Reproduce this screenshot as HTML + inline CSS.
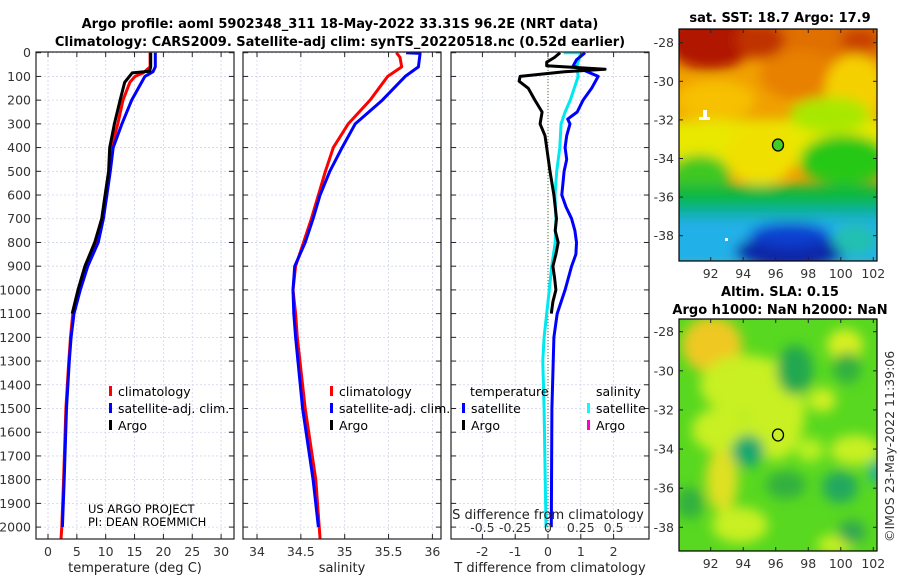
<!DOCTYPE html>
<html><head><meta charset="utf-8"><style>
html,body{margin:0;padding:0;background:#fff;}
svg{display:block;font-family:"DejaVu Sans","Liberation Sans",sans-serif;}
.tk{font-size:12.5px;fill:#333;}
.ttl{font-size:13px;font-weight:bold;fill:#000;}
.lab{font-size:13px;fill:#222;}
.lg{font-size:12.5px;fill:#000;}
</style></head><body>
<svg id="fig" width="900" height="580" viewBox="0 0 900 580">
<defs>
<filter id="blur1" filterUnits="userSpaceOnUse" x="650" y="0" width="250" height="290"><feGaussianBlur stdDeviation="6"/></filter>
<filter id="blur2" filterUnits="userSpaceOnUse" x="650" y="290" width="250" height="290"><feGaussianBlur stdDeviation="6"/></filter>
<clipPath id="cm1"><rect x="679" y="29" width="198" height="232"/></clipPath>
<clipPath id="cm2"><rect x="679" y="319" width="198" height="232"/></clipPath>
<clipPath id="cp1"><rect x="36" y="52" width="198" height="487"/></clipPath>
<clipPath id="cp2"><rect x="243" y="52" width="198" height="487"/></clipPath>
<clipPath id="cp3"><rect x="451" y="52" width="198" height="487"/></clipPath>
</defs>
<text class="ttl" x="340" y="28" text-anchor="middle">Argo profile: aoml 5902348_311 18-May-2022 33.31S 96.2E (NRT data)</text>
<text class="ttl" x="340" y="46" text-anchor="middle">Climatology: CARS2009. Satellite-adj clim: synTS_20220518.nc (0.52d earlier)</text>
<g id="grids"></g>
<g id="series"></g>
<g id="axes"></g>

<!-- map 1 SST -->
<g clip-path="url(#cm1)">
<rect x="679" y="29" width="198" height="232" fill="#f0a000"/>
<g filter="url(#blur1)">
<rect x="660" y="10" width="240" height="50" fill="#e07000"/>
<ellipse cx="710" cy="40" rx="45" ry="30" fill="#b01800"/>
<ellipse cx="760" cy="40" rx="25" ry="18" fill="#c03000"/>
<ellipse cx="860" cy="40" rx="20" ry="12" fill="#c84000"/>
<ellipse cx="800" cy="75" rx="40" ry="25" fill="#e88000"/>
<ellipse cx="715" cy="100" rx="40" ry="20" fill="#f7c000"/>
<ellipse cx="855" cy="90" rx="30" ry="35" fill="#f5d000"/>
<rect x="660" y="120" width="240" height="45" fill="#e8e800"/>
<ellipse cx="760" cy="155" rx="35" ry="30" fill="#f0e000"/>
<ellipse cx="830" cy="115" rx="40" ry="18" fill="#a8e800"/>
<ellipse cx="845" cy="160" rx="45" ry="25" fill="#28c818"/>
<ellipse cx="700" cy="175" rx="30" ry="20" fill="#40c820"/>
<rect x="660" y="185" width="240" height="25" fill="#10b840"/>
<rect x="660" y="205" width="240" height="15" fill="#10b0a0"/>
<rect x="660" y="218" width="240" height="50" fill="#20b0e8"/>
<ellipse cx="790" cy="252" rx="55" ry="18" fill="#0828a8"/>
<ellipse cx="790" cy="235" rx="40" ry="12" fill="#1040d0"/>
<ellipse cx="855" cy="240" rx="22" ry="16" fill="#20c0b0"/>
</g>
<rect x="703" y="110" width="4" height="8" fill="#fff"/><rect x="699" y="117" width="11" height="3" fill="#fff"/>
<rect x="725" y="238" width="3" height="3" fill="#fff"/>
<ellipse cx="778" cy="145" rx="5.5" ry="6" fill="#44cc22" stroke="#000" stroke-width="1.3"/>
</g>
<rect x="679" y="29" width="198" height="232" fill="none" stroke="#000" stroke-width="1.2"/>
<text class="ttl" x="780" y="22" text-anchor="middle">sat. SST: 18.7 Argo: 17.9</text>

<!-- map 2 SLA -->
<g clip-path="url(#cm2)">
<rect x="679" y="319" width="198" height="232" fill="#58d820"/>
<g filter="url(#blur2)">
<ellipse cx="712" cy="345" rx="30" ry="28" fill="#f0c820"/>
<ellipse cx="745" cy="385" rx="45" ry="30" fill="#c8f020"/>
<ellipse cx="775" cy="410" rx="30" ry="50" fill="#c8f020"/>
<ellipse cx="720" cy="430" rx="28" ry="22" fill="#c8f020"/>
<ellipse cx="722" cy="480" rx="16" ry="32" fill="#e0e020"/>
<ellipse cx="740" cy="525" rx="28" ry="18" fill="#c8f020"/>
<ellipse cx="855" cy="450" rx="25" ry="15" fill="#c8f020"/>
<ellipse cx="845" cy="345" rx="18" ry="16" fill="#d8f020"/>
<ellipse cx="822" cy="400" rx="14" ry="12" fill="#d0f020"/>
<ellipse cx="835" cy="545" rx="18" ry="10" fill="#c8f020"/>
<ellipse cx="810" cy="450" rx="14" ry="12" fill="#b8f020"/>
<ellipse cx="795" cy="370" rx="18" ry="25" fill="#20a850"/>
<ellipse cx="847" cy="368" rx="14" ry="16" fill="#30b040"/>
<ellipse cx="748" cy="451" rx="16" ry="16" fill="#18a870"/>
<ellipse cx="840" cy="487" rx="18" ry="16" fill="#20a860"/>
<ellipse cx="786" cy="485" rx="20" ry="14" fill="#30b040"/>
<ellipse cx="852" cy="532" rx="14" ry="12" fill="#30a850"/>
<ellipse cx="877" cy="472" rx="8" ry="12" fill="#20b0a0"/>
<ellipse cx="690" cy="503" rx="14" ry="16" fill="#30b040"/>
</g>
<ellipse cx="778" cy="435" rx="5.5" ry="6" fill="none" stroke="#000" stroke-width="1.3"/>
</g>
<rect x="679" y="319" width="198" height="232" fill="none" stroke="#000" stroke-width="1.2"/>
<text class="ttl" x="780" y="296" text-anchor="middle">Altim. SLA: 0.15</text>
<text class="ttl" x="780" y="314" text-anchor="middle">Argo h1000: NaN h2000: NaN</text>
<text class="tk" transform="translate(894,542) rotate(-90)">©IMOS 23-May-2022 11:39:06</text>
<g id="mapaxes"></g>

<!-- legends -->
<g>
<rect x="109" y="386" width="3" height="10" fill="#f00"/><text class="lg" x="118" y="396">climatology</text>
<rect x="109" y="403" width="3" height="10" fill="#00f"/><text class="lg" x="118" y="413">satellite-adj. clim.</text>
<rect x="109" y="420" width="3" height="10" fill="#000"/><text class="lg" x="118" y="430">Argo</text>
</g>
<g>
<rect x="330" y="386" width="3" height="10" fill="#f00"/><text class="lg" x="339" y="396">climatology</text>
<rect x="330" y="403" width="3" height="10" fill="#00f"/><text class="lg" x="339" y="413">satellite-adj. clim.</text>
<rect x="330" y="420" width="3" height="10" fill="#000"/><text class="lg" x="339" y="430">Argo</text>
</g>
<g>
<text class="lg" x="470" y="396">temperature</text><text class="lg" x="596" y="396">salinity</text>
<rect x="462" y="403" width="3" height="10" fill="#00f"/><text class="lg" x="471" y="413">satellite</text>
<rect x="462" y="420" width="3" height="10" fill="#000"/><text class="lg" x="471" y="430">Argo</text>
<rect x="587" y="403" width="3" height="10" fill="#0ff"/><text class="lg" x="596" y="413">satellite</text>
<rect x="587" y="420" width="3" height="10" fill="#f0c"/><text class="lg" x="596" y="430">Argo</text>
</g>
<text class="lg" x="88" y="513" style="font-size:11.5px">US ARGO PROJECT</text>
<text class="lg" x="88" y="526" style="font-size:11.5px">PI: DEAN ROEMMICH</text>
</svg>
<script>
// ---- data ----
const depthTicks=[0,100,200,300,400,500,600,700,800,900,1000,1100,1200,1300,1400,1500,1600,1700,1800,1900,2000];
const tempTicks=[0,5,10,15,20,25,30];
const salTicks=[34,34.5,35,35.5,36];
const salTickLabels=["34","34.5","35","35.5","36"];
const tdiffTicks=[-2,-1,0,1,2];
const sdiffTicks=[-0.5,-0.25,0,0.25,0.5];
const sdiffTickLabels=["-0.5","-0.25","0","0.25","0.5"];

const climTDepth=[0,60,85,100,125,200,300,400,500,600,700,800,900,1000,1100,1200,1300,1500,1800,2000,2050];
const climT=[17.7,17.7,16.5,15.1,14.2,13.0,12.1,11.0,10.6,10.0,9.4,8.3,6.6,5.3,4.3,3.9,3.6,3.1,2.7,2.4,2.25];
const satTDepth=[0,60,80,100,200,300,400,500,600,700,800,900,1000,1100,1200,1300,1500,1800,2000];
const satT=[18.6,18.6,18.2,16.8,14.5,12.8,11.3,10.8,10.2,9.6,8.7,6.9,5.6,4.5,4.0,3.7,3.2,2.8,2.5];
const argoTDepth=[0,60,78,85,125,200,300,400,500,600,700,800,900,1000,1100];
const argoT=[17.8,17.8,17.6,14.6,13.3,12.5,11.5,10.7,10.5,9.9,9.3,8.1,6.4,5.2,4.2];

const climSDepth=[0,20,60,100,200,300,400,500,600,700,800,900,1000,1100,1200,1500,1800,2050];
const climS=[35.59,35.63,35.65,35.49,35.29,35.04,34.87,34.78,34.70,34.62,34.53,34.44,34.41,34.44,34.46,34.55,34.67,34.72];
const satSDepth=[0,3,60,100,200,300,400,500,600,700,800,900,1000,1100,1200,1500,1800,2000];
const satS=[35.70,35.86,35.84,35.69,35.43,35.12,34.97,34.83,34.72,34.64,34.55,34.43,34.41,34.42,34.44,34.52,34.64,34.70];

const argoTdDepth=[0,20,40,55,70,80,100,120,150,200,250,300,350,400,500,600,700,750,800,850,900,950,1000,1050,1100];
const argoTd=[0.37,0.2,-0.04,-0.04,1.74,0.5,-0.85,-0.88,-0.6,-0.4,-0.18,-0.24,-0.09,-0.04,0.06,0.18,0.26,0.22,0.31,0.24,0.15,0.2,0.24,0.15,0.1];
const satTdDepth=[0,30,55,100,150,200,250,280,300,350,400,450,500,600,650,700,750,800,850,900,1000,1100,1200,1500,2000];
const satTd=[1.13,0.87,0.77,1.53,1.33,1.07,0.89,0.6,0.67,0.57,0.52,0.57,0.49,0.42,0.55,0.72,0.82,0.87,0.85,0.72,0.52,0.28,0.18,0.12,0.1];
const satSdDepth=[0,0,60,100,150,200,250,300,400,500,600,700,800,900,1000,1100,1200,1300,1500,2000];
const satSd=[0.12,0.25,0.22,0.23,0.2,0.17,0.13,0.1,0.09,0.066,0.053,0.06,0.055,0.028,0.01,-0.01,-0.03,-0.04,-0.03,-0.015];

const lonTicks=[92,94,96,98,100,102];
const latTicks=[-28,-30,-32,-34,-36,-38];

// ---- scales ----
const NS='http://www.w3.org/2000/svg';
const P1={l:36,r:234},P2={l:243,r:441},P3={l:451,r:649},TOP=52,BOT=539;
const yD=d=>52.7+d*0.2372;
const xT=t=>48+t*5.77;
const xS=s=>257+(s-34)*87.7;
const xTd=t=>548+t*32.8;
const xSd=s=>548+s*131.2;
const mx=lon=>710.7+(lon-92)*16.26;
const my1=lat=>42.7+(-28-lat)*19.3;
const my2=lat=>331.7+(-28-lat)*19.56;

function mk(tag,attrs,parent){const e=document.createElementNS(NS,tag);for(const k in attrs)e.setAttribute(k,attrs[k]);parent.appendChild(e);return e;}
const grids=document.getElementById('grids'),series=document.getElementById('series'),axes=document.getElementById('axes'),mapaxes=document.getElementById('mapaxes');

// grids
[P1,P2,P3].forEach(p=>{depthTicks.forEach(d=>{const g=mk('line',{x1:p.l,x2:p.r,y1:yD(d),y2:yD(d),stroke:'#d0d4ec','stroke-width':0.8,'stroke-dasharray':'2,2'},grids);

});});
tempTicks.forEach(t=>{const g=mk('line',{x1:xT(t),x2:xT(t),y1:TOP,y2:BOT,stroke:'#d0d4ec','stroke-width':0.8,'stroke-dasharray':'2,2'},grids);

});
salTicks.forEach(t=>{const g=mk('line',{x1:xS(t),x2:xS(t),y1:TOP,y2:BOT,stroke:'#d0d4ec','stroke-width':0.8,'stroke-dasharray':'2,2'},grids);

});
tdiffTicks.forEach(t=>{const g=mk('line',{x1:xTd(t),x2:xTd(t),y1:TOP,y2:BOT,stroke:'#d0d4ec','stroke-width':0.8,'stroke-dasharray':'2,2'},grids);

});
const zl=mk('line',{x1:xTd(0),x2:xTd(0),y1:TOP,y2:BOT,stroke:'#556b2f','stroke-width':1,'stroke-dasharray':'1,2'},grids);



// series
function line(xs,ds,xf,color,clip,name,w){const pts=xs.map((v,i)=>xf(v).toFixed(1)+','+yD(ds[i]).toFixed(1)).join(' ');
const e=mk('polyline',{points:pts,fill:'none',stroke:color,'stroke-width':w||3,'stroke-linejoin':'round','clip-path':'url(#'+clip+')'},series);

}
line(climT,climTDepth,xT,'#f00','cp1','climatology-temperature-line');
line(satT,satTDepth,xT,'#00f','cp1','satellite-temperature-line');
line(argoT,argoTDepth,xT,'#000','cp1','argo-temperature-line');
line(climS,climSDepth,xS,'#f00','cp2','climatology-salinity-line');
line(satS,satSDepth,xS,'#00f','cp2','satellite-salinity-line');
line(satSd,satSdDepth,xSd,'#00e8f0','cp3','satellite-salinity-difference-line');
line(satTd,satTdDepth,xTd,'#00f','cp3','satellite-temperature-difference-line');
line(argoTd,argoTdDepth,xTd,'#000','cp3','argo-temperature-difference-line');

// axes frames and ticks
[[P1,'temperature-panel-frame'],[P2,'salinity-panel-frame'],[P3,'difference-panel-frame']].forEach(([p,n])=>{
const f=mk('rect',{x:p.l,y:TOP,width:p.r-p.l,height:BOT-TOP,fill:'none',stroke:'#222','stroke-width':1.2},axes);


depthTicks.forEach(d=>{mk('line',{x1:p.l,x2:p.l+5,y1:yD(d),y2:yD(d),stroke:'#222','stroke-width':1},axes);mk('line',{x1:p.r-5,x2:p.r,y1:yD(d),y2:yD(d),stroke:'#222','stroke-width':1},axes);});});
depthTicks.forEach(d=>{const t=mk('text',{x:31,y:yD(d)+4.5,'text-anchor':'end',class:'tk'},axes);t.textContent=d;

});
function xticks(vals,labs,xf,y){vals.forEach((v,i)=>{mk('line',{x1:xf(v),x2:xf(v),y1:BOT,y2:BOT-5,stroke:'#222'},axes);mk('line',{x1:xf(v),x2:xf(v),y1:TOP,y2:TOP+5,stroke:'#222'},axes);
const t=mk('text',{x:xf(v),y:y,'text-anchor':'middle',class:'tk'},axes);t.textContent=labs[i];

});}
xticks(tempTicks,tempTicks.map(String),xT,556);
xticks(salTicks,salTickLabels,xS,556);
xticks(tdiffTicks,tdiffTicks.map(String),xTd,556);
sdiffTicks.forEach((v,i)=>{const t=mk('text',{x:xSd(v),y:532,'text-anchor':'middle',class:'tk'},axes);t.textContent=sdiffTickLabels[i];

});
function lab(x,y,s,n){const t=mk('text',{x:x,y:y,'text-anchor':'middle',class:'lab'},axes);t.textContent=s;

}
lab(135,572,'temperature (deg C)','temperature-axis-title');
lab(342,572,'salinity','salinity-axis-title');
lab(550,572,'T difference from climatology','tdiff-axis-title');
lab(548,519,'S difference from climatology','sdiff-axis-title');

// map axes
[[my1,261,29],[my2,551,319]].forEach(([myf,b,t])=>{
lonTicks.forEach(v=>{mk('line',{x1:mx(v),x2:mx(v),y1:b,y2:b-4,stroke:'#222'},mapaxes);mk('line',{x1:mx(v),x2:mx(v),y1:t,y2:t+4,stroke:'#222'},mapaxes);
const tx=mk('text',{x:mx(v),y:b+17,'text-anchor':'middle',class:'tk'},mapaxes);tx.textContent=v;

});
latTicks.forEach(v=>{mk('line',{x1:679,x2:683,y1:myf(v),y2:myf(v),stroke:'#222'},mapaxes);mk('line',{x1:873,x2:877,y1:myf(v),y2:myf(v),stroke:'#222'},mapaxes);
const tx=mk('text',{x:674,y:myf(v)+4.5,'text-anchor':'end',class:'tk'},mapaxes);tx.textContent=v;

});});
</script>
</body></html>
